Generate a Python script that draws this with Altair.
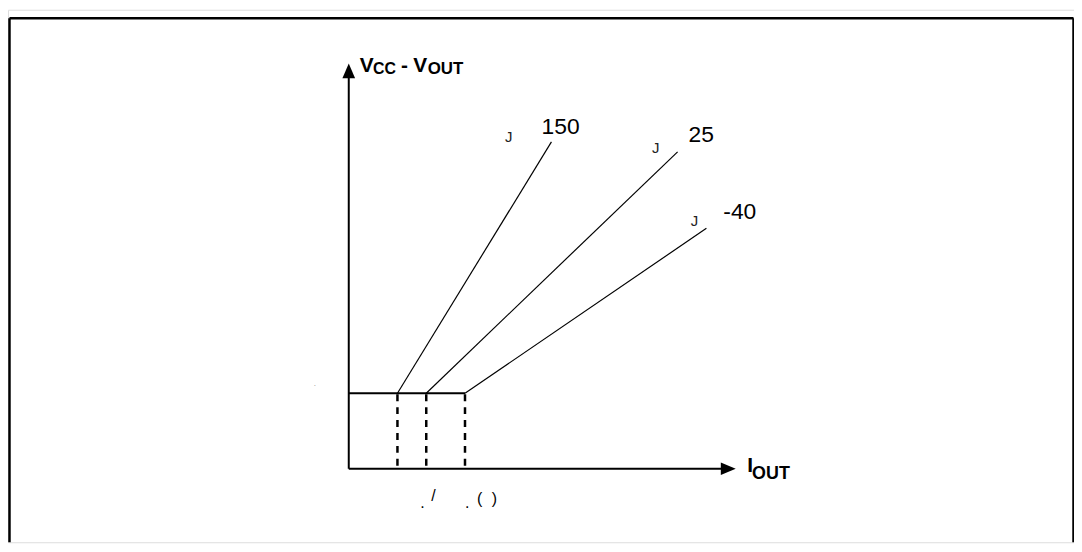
import altair as alt
import pandas as pd

# ---- data (schematic units: 1 unit = 10 px of the drawing) ----
temps = ["150", "25", "-40"]
knee_i = [4.9, 7.8, 11.7]          # I_OUT at which each curve leaves the flat part
knee_v = 7.6                       # flat (minimum) drop level
end_i = [20.4, 33.1, 36.0]
end_v = [32.9, 31.9, 24.2]
label_i = [19.4, 34.2, 37.7]
label_v = [34.4, 33.6, 25.8]
j_i = [16.1, 30.9, 34.8]
j_v = [33.4, 32.3, 24.9]

axis_x0 = [0.0, 0.0]
axis_y0 = [0.0, 0.0]
axis_x1 = [0.0, 37.6]
axis_y1 = [39.6, 0.0]

frame_x0 = [-34.15, -34.15, 72.95]
frame_y0 = [-7.4, 45.35, 45.35]
frame_x1 = [-34.15, 72.95, 72.95]
frame_y1 = [45.35, 45.35, -7.4]

XDOM = [-34.3, 73.0]
YDOM = [-7.4, 46.2]
FONT = "Liberation Sans"

xs = alt.Scale(domain=XDOM, nice=False, zero=False)
ys = alt.Scale(domain=YDOM, nice=False, zero=False)

def X(f):
    return alt.X(f, type="quantitative", scale=xs, axis=None)

def Y(f):
    return alt.Y(f, type="quantitative", scale=ys, axis=None)

seg = lambda a, b, c, d: pd.DataFrame({"x": a, "y": b, "x2": c, "y2": d})

frame = alt.Chart(seg(frame_x0, frame_y0, frame_x1, frame_y1)).mark_rule(
    color="black", strokeWidth=2.5).encode(x=X("x"), y=Y("y"), x2="x2", y2="y2")

axes = alt.Chart(seg(axis_x0, axis_y0, axis_x1, axis_y1)).mark_rule(
    color="black", strokeWidth=2).encode(x=X("x"), y=Y("y"), x2="x2", y2="y2")

arrow_up = alt.Chart(pd.DataFrame({"x": [0.0], "y": [40.05]})).mark_point(
    shape="M0,-1L0.85,1L-0.85,1Z", filled=True, color="black", opacity=1, size=225
).encode(x=X("x"), y=Y("y"))

arrow_right = alt.Chart(pd.DataFrame({"x": [38.2], "y": [0.0]})).mark_point(
    shape="M1,0L-1,0.85L-1,-0.85Z", filled=True, color="black", opacity=1, size=225
).encode(x=X("x"), y=Y("y"))

flat = alt.Chart(seg([0.0], [knee_v], [max(knee_i)], [knee_v])).mark_rule(
    color="black", strokeWidth=2).encode(x=X("x"), y=Y("y"), x2="x2", y2="y2")

dashes = alt.Chart(seg(knee_i, [0.0] * 3, knee_i, [knee_v] * 3)).mark_rule(
    color="black", strokeWidth=2.5, strokeDash=[7, 6], strokeDashOffset=-3
).encode(x=X("x"), y=Y("y"), x2="x2", y2="y2")

curves = alt.Chart(seg(knee_i, [knee_v] * 3, end_i, end_v)).mark_rule(
    color="black", strokeWidth=1.2).encode(x=X("x"), y=Y("y"), x2="x2", y2="y2")

temp_lbl = alt.Chart(pd.DataFrame({"x": label_i, "y": label_v, "t": temps})).mark_text(
    font=FONT, fontSize=23, align="left", baseline="middle", color="black"
).encode(x=X("x"), y=Y("y"), text="t:N")

j_lbl = alt.Chart(pd.DataFrame({"x": j_i, "y": j_v, "t": ["J"] * 3})).mark_text(
    font=FONT, fontSize=15, align="center", baseline="middle", color="#222222"
).encode(x=X("x"), y=Y("y"), text="t:N")

# axis titles (main letters and subscripts)
main_t = ["V", "-", "V", "I"]
main_x = [1.1, 5.25, 6.5, 40.1]
main_y = [39.9, 39.9, 39.9, -0.3]
sub_t = ["CC", "OUT", "OUT"]
sub_x = [2.45, 7.95, 40.6]
sub_y = [39.7, 39.7, -1.0]

titles_main = alt.Chart(pd.DataFrame({"x": main_x, "y": main_y, "t": main_t})).mark_text(
    font=FONT, fontSize=21, fontWeight="bold", align="left", baseline="alphabetic", color="black"
).encode(x=X("x"), y=Y("y"), text="t:N")

titles_sub = alt.Chart(pd.DataFrame({"x": sub_x, "y": sub_y, "t": sub_t, "s": [16, 17, 18]})).mark_text(
    font=FONT, fontWeight="bold", align="left", baseline="alphabetic", color="black"
).encode(x=X("x"), y=Y("y"), text="t:N", size=alt.Size("s:Q", scale=None, legend=None))

# stray fragments under the axis
frag_t = [".", "/", ".", "(", ")"]
frag_x = [7.2, 8.3, 11.7, 12.9, 14.4]
frag_y = [-3.5, -2.7, -3.5, -3.1, -3.1]
frags = alt.Chart(pd.DataFrame({"x": frag_x, "y": frag_y, "t": frag_t})).mark_text(
    font=FONT, fontSize=16, align="left", baseline="middle", color="black"
).encode(x=X("x"), y=Y("y"), text="t:N")

dot = alt.Chart(pd.DataFrame({"x": [-3.4], "y": [8.5], "t": ["."]})).mark_text(
    font=FONT, fontSize=8, align="center", baseline="middle", color="#888888"
).encode(x=X("x"), y=Y("y"), text="t:N")

chart = alt.layer(
    frame, axes, arrow_up, arrow_right, flat, dashes, curves,
    temp_lbl, j_lbl, titles_main, titles_sub, frags, dot
).properties(
    width=1073, height=536, padding=0,
    autosize=alt.AutoSizeParams(type="none")
).configure_view(stroke=None).configure(background="white")

chart.save("out.html", embed_options={"renderer": "svg", "actions": False})
